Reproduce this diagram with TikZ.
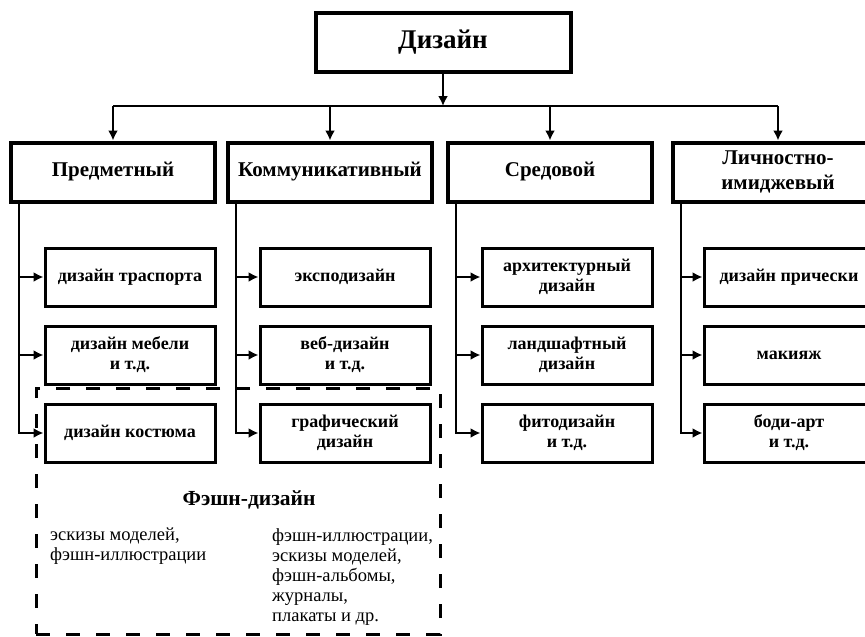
\documentclass[tikz,border=0pt]{standalone}
\usepackage{fontspec}
\setmainfont{Liberation Serif}
\usetikzlibrary{positioning,arrows.meta}

\begin{document}
\begin{tikzpicture}
                    [x=1pt, y=-1pt,
                    design/.style={rectangle, draw, line width=4pt,
                        minimum width=255pt, minimum height=59pt,
                        font=\bfseries\fontsize{27}{30}\selectfont},
                    kind/.style={rectangle, draw, line width=4pt,
                        minimum width=204pt, minimum height=59pt,
                        align=center, inner sep=1pt,
                        font=\bfseries\fontsize{21}{25}\selectfont},
                    branch/.style={rectangle, draw, line width=3pt,
                        minimum width=170pt, minimum height=58pt,
                        align=center, inner sep=1pt,
                        font=\bfseries\fontsize{18}{20}\selectfont},
                    fashion/.style={rectangle, draw, line width=3pt,
                        dash pattern=on 14pt off 16pt},
                    note/.style={align=left, inner sep=0pt, anchor=north west,
                        font=\fontsize{18.5}{20}\selectfont},
                    conn/.style={line width=2pt,
                        -{Latex[length=10pt,width=10pt]}},
                    node distance=17pt]

                    \path[use as bounding box] (0,0) rectangle (865,637);
                    \clip (0,0) rectangle (865,637);

                    % root and bus
                    \node[design] (dz) at (443,42) {Дизайн};
                    \coordinate (bus) at (443,106);

                    % kinds
                    \node[kind] (pred) at (113,172) {Предметный};
                    \node[kind] (komm) at (330,172) {Коммуникативный};
                    \node[kind] (sred) at (550,172) {Средовой};
                    \node[kind, minimum width=210pt] (lich) at (778,172)
                        {Личностно-\\имиджевый};

                    % branches
                    \node[branch] (pred1) at (130,277) {дизайн траспорта};
                    \node[branch, below=of pred1] (pred2) {дизайн мебели\\и т.д.};
                    \node[branch, below=of pred2] (pred3) {дизайн костюма};

                    \node[branch] (komm1) at (345,277) {эксподизайн};
                    \node[branch, below=of komm1] (komm2) {веб-дизайн\\и т.д.};
                    \node[branch, below=of komm2] (komm3) {графический\\дизайн};

                    \node[branch] (sred1) at (567,277) {архитектурный\\дизайн};
                    \node[branch, below=of sred1] (sred2) {ландшафтный\\дизайн};
                    \node[branch, below=of sred2] (sred3) {фитодизайн\\и т.д.};

                    \node[branch] (lich1) at (789,277) {дизайн прически};
                    \node[branch, below=of lich1] (lich2) {макияж};
                    \node[branch, below=of lich2] (lich3) {боди-арт\\и т.д.};

                    % fashion frame
                    \node[fashion, minimum width=404pt, minimum height=246pt]
                        (fd) at (238,511) {};
                    \node[font=\bfseries\fontsize{21.5}{24}\selectfont]
                        (fdtitle) at (249,500) {Фэшн-дизайн};
                    \node[note] (fdleft) at (50,528)
                        {эскизы моделей,\\фэшн-иллюстрации};
                    \node[note] (fdright) at (272,528)
                        {фэшн-иллюстрации,\\эскизы моделей,\\фэшн-альбомы,\\журналы,\\плакаты и др.};

                    % connectors
                    \draw[conn] (dz) -- (bus);
                    \draw[line width=2pt] (bus -| pred) -- (bus -| lich);
                    \foreach \k in {pred,komm,sred,lich}
                        \draw[conn] (bus -| \k) -- (\k);
                    \foreach \k in {pred,komm,sred,lich}
                        \foreach \i in {1,2,3}
                            \draw[conn] ([xshift=10pt]\k.south west) |- (\k\i.west);
                \end{tikzpicture}
\end{document}
